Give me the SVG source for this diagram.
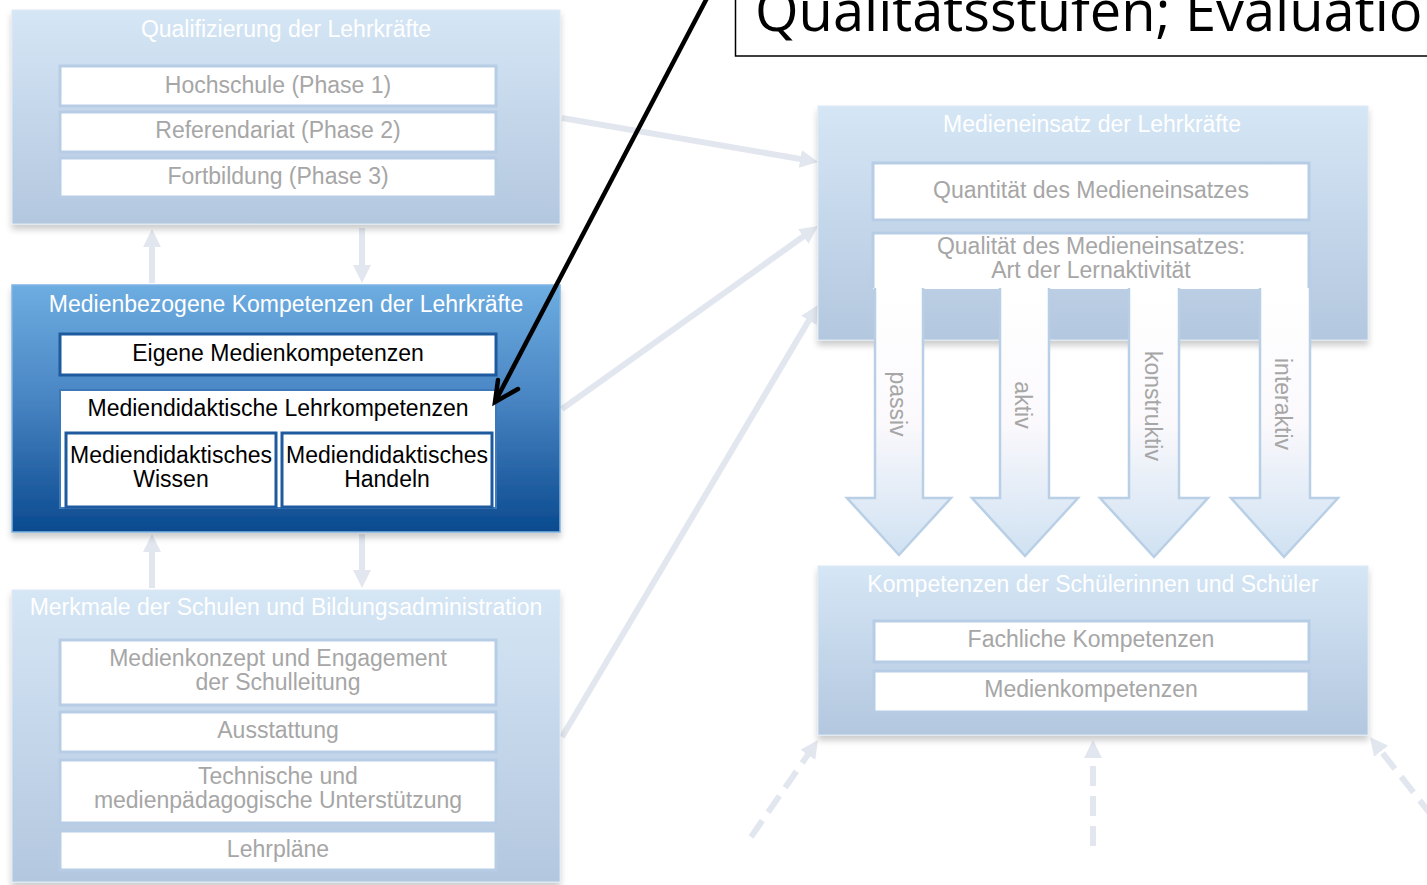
<svg xmlns="http://www.w3.org/2000/svg" width="1427" height="885" viewBox="0 0 1427 885">
<style>
.t{font-family:"Liberation Sans",Arial,sans-serif;font-size:23px;text-anchor:middle}
.w{fill:#ffffff}
.g{fill:#a6a6a6}
.k{fill:#000000}
.outer{fill:url(#gLight);stroke:#dde9f6;stroke-width:1}
.inner{fill:#ffffff;stroke:#b7cde5;stroke-width:3}
.dinner{fill:#ffffff;stroke:#1f5a9e;stroke-width:3}
.conn{fill:none;stroke:#e2e7ef;stroke-width:6;marker-end:url(#ah)}
.dash{stroke-dasharray:20 10}
.block{fill:url(#gShaft);stroke:#b8cfe6;stroke-width:2.5;stroke-linejoin:miter}
</style>
<defs>
<linearGradient id="gLight" x1="0" y1="0" x2="0" y2="1"><stop offset="0" stop-color="#d5e6f5"/><stop offset="1" stop-color="#b3c7df"/></linearGradient>
<linearGradient id="gDark" x1="0" y1="0" x2="0" y2="1"><stop offset="0" stop-color="#6dade1"/><stop offset="0.45" stop-color="#4a86c4"/><stop offset="1" stop-color="#0a4a8f"/></linearGradient>
<linearGradient id="gShaft" gradientUnits="userSpaceOnUse" x1="0" y1="288" x2="0" y2="557"><stop offset="0" stop-color="#ffffff"/><stop offset="0.5" stop-color="#fbf9fc"/><stop offset="1" stop-color="#cfe1f2"/></linearGradient>
<filter id="sh" x="-5%" y="-5%" width="110%" height="115%"><feDropShadow dx="0" dy="5" stdDeviation="3" flood-color="#000000" flood-opacity="0.2"/></filter>
<marker id="ah" markerUnits="userSpaceOnUse" markerWidth="20" markerHeight="20" refX="6" refY="9" orient="auto"><path d="M0,0 L18,9 L0,18 Z" fill="#e2e7ef"/></marker>
</defs>
<rect width="1427" height="885" fill="#ffffff"/>

<g id="connectors">
<line class="conn" x1="562" y1="118" x2="806.2" y2="160"/>
<line class="conn" x1="562" y1="409" x2="808.2" y2="233"/>
<line class="conn" x1="562" y1="737" x2="811.9" y2="315.3"/>
<line class="conn" x1="152" y1="283" x2="152" y2="241"/>
<line class="conn" x1="362" y1="228" x2="362" y2="271"/>
<line class="conn" x1="152" y1="588" x2="152" y2="546"/>
<line class="conn" x1="362" y1="534" x2="362" y2="576"/>
<line class="conn dash" x1="751" y1="837" x2="811.2" y2="749.9"/>
<line class="conn dash" x1="1093" y1="846" x2="1093" y2="752"/>
<line class="conn dash" x1="1432" y1="816" x2="1377.4" y2="746.5"/>
</g>

<g id="qualifizierung">
<rect class="outer" x="12" y="10" width="548" height="214" filter="url(#sh)"/>
<text class="t w" x="286" y="37">Qualifizierung der Lehrkräfte</text>
<rect class="inner" x="60" y="66" width="436" height="40"/>
<text class="t g" x="278" y="93">Hochschule (Phase 1)</text>
<rect class="inner" x="60" y="112" width="436" height="40"/>
<text class="t g" x="278" y="138">Referendariat (Phase 2)</text>
<rect class="inner" x="60" y="158" width="436" height="39"/>
<text class="t g" x="278" y="184">Fortbildung (Phase 3)</text>
</g>

<g id="medienkompetenzen-lehrkraefte">
<rect x="12" y="285" width="548" height="247" fill="url(#gDark)" stroke="#7fb5e3" stroke-width="1.5" filter="url(#sh)"/>
<text class="t w" x="286" y="312">Medienbezogene Kompetenzen der Lehrkräfte</text>
<rect class="dinner" x="60" y="334" width="436" height="41"/>
<text class="t k" x="278" y="361">Eigene Medienkompetenzen</text>
<rect x="60" y="390" width="436" height="118" fill="#ffffff" stroke="#3d78ba" stroke-width="2"/>
<text class="t k" x="278" y="416">Mediendidaktische Lehrkompetenzen</text>
<rect class="dinner" x="66" y="433" width="210" height="74"/>
<text class="t k" x="171" y="463">Mediendidaktisches</text>
<text class="t k" x="171" y="487">Wissen</text>
<rect class="dinner" x="282" y="433" width="210" height="74"/>
<text class="t k" x="387" y="463">Mediendidaktisches</text>
<text class="t k" x="387" y="487">Handeln</text>
</g>

<g id="merkmale-schulen">
<rect class="outer" x="12" y="590" width="548" height="292" filter="url(#sh)"/>
<text class="t w" x="286" y="615">Merkmale der Schulen und Bildungsadministration</text>
<rect class="inner" x="60" y="640" width="436" height="65"/>
<text class="t g" x="278" y="666">Medienkonzept und Engagement</text>
<text class="t g" x="278" y="690">der Schulleitung</text>
<rect class="inner" x="60" y="712" width="436" height="40"/>
<text class="t g" x="278" y="738">Ausstattung</text>
<rect class="inner" x="60" y="760" width="436" height="63"/>
<text class="t g" x="278" y="784">Technische und</text>
<text class="t g" x="278" y="808">medienpädagogische Unterstützung</text>
<rect class="inner" x="60" y="831" width="436" height="39"/>
<text class="t g" x="278" y="857">Lehrpläne</text>
</g>

<g id="medieneinsatz">
<rect class="outer" x="818" y="106" width="550" height="234" filter="url(#sh)"/>
<text class="t w" x="1092" y="132">Medieneinsatz der Lehrkräfte</text>
<rect class="inner" x="873" y="163" width="436" height="57"/>
<text class="t g" x="1091" y="198">Quantität des Medieneinsatzes</text>
<rect x="873" y="233" width="436" height="56" fill="#ffffff"/>
<path d="M873,288 V233 H1309 V288" fill="none" stroke="#b7cde5" stroke-width="3"/>
<text class="t g" x="1091" y="254">Qualität des Medieneinsatzes:</text>
<text class="t g" x="1091" y="278">Art der Lernaktivität</text>
</g>

<g id="lernaktivitaet-pfeile">
<g id="passiv">
<path class="block" d="M875,288 V498 H847 L899,555 L951,498 H923 V288"/>
<text class="t g" transform="translate(889.5,404) rotate(90)" x="0" y="0">passiv</text>
</g>
<g id="aktiv">
<path class="block" d="M1000,288 V498 H972 L1025,556 L1078,498 H1049 V288"/>
<text class="t g" transform="translate(1015,405) rotate(90)" x="0" y="0">aktiv</text>
</g>
<g id="konstruktiv">
<path class="block" d="M1129,288 V498 H1100 L1154,557 L1208,498 H1179 V288"/>
<text class="t g" transform="translate(1145,406) rotate(90)" x="0" y="0">konstruktiv</text>
</g>
<g id="interaktiv">
<path class="block" d="M1260,288 V498 H1231 L1284,557 L1338,498 H1310 V288"/>
<text class="t g" transform="translate(1275,404) rotate(90)" x="0" y="0">interaktiv</text>
</g>
</g>

<g id="kompetenzen-schueler">
<rect class="outer" x="818" y="566" width="550" height="169" filter="url(#sh)"/>
<text class="t w" x="1093" y="592">Kompetenzen der Schülerinnen und Schüler</text>
<rect class="inner" x="874" y="621" width="435" height="41"/>
<text class="t g" x="1091" y="647">Fachliche Kompetenzen</text>
<rect class="inner" x="874" y="671" width="435" height="41"/>
<text class="t g" x="1091" y="697">Medienkompetenzen</text>
</g>

<g id="annotation">
<path d="M1440,56 H735.5 V-5" fill="none" stroke="#000000" stroke-width="1.5"/>
<text x="755" y="31" style="font-family:'Open Sans','Liberation Sans',sans-serif;font-size:56px;fill:#000000">Qualitätsstufen; Evaluation</text>
<line x1="707" y1="-2" x2="496" y2="400" stroke="#000000" stroke-width="4.5"/>
<polyline points="498,380 495,402 518,389" fill="none" stroke="#000000" stroke-width="4.5" stroke-linecap="round" stroke-linejoin="miter"/>
</g>
</svg>
